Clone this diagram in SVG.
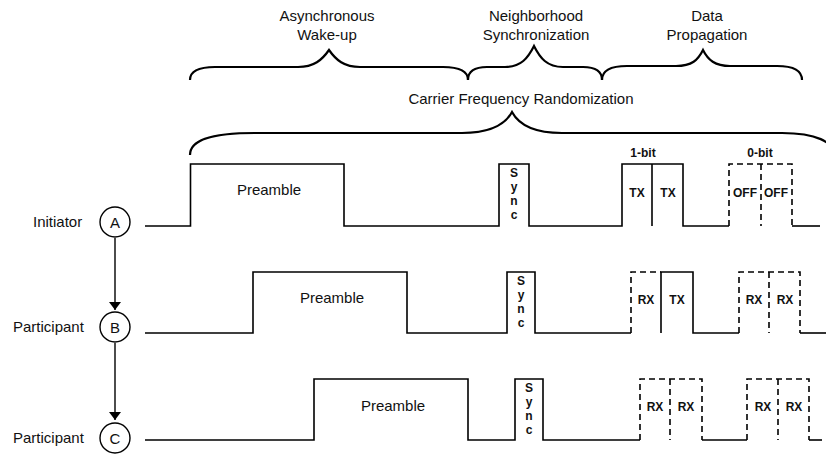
<svg xmlns="http://www.w3.org/2000/svg" width="826" height="454" viewBox="0 0 826 454">
<defs>
<style>
.t{font-family:"Liberation Sans",Arial,sans-serif;font-size:15px;fill:#111}
.m{text-anchor:middle}
.b{font-family:"Liberation Sans",Arial,sans-serif;font-size:12px;font-weight:bold;fill:#111;text-anchor:middle}
.w{fill:none;stroke:#000;stroke-width:1.6;stroke-linejoin:miter}
.d{fill:none;stroke:#000;stroke-width:1.6;stroke-dasharray:6 4}
.br{fill:none;stroke:#000;stroke-width:2.2}
.node{fill:#fff;stroke:#000;stroke-width:1.4}
.c{stroke:#000;stroke-width:1.4;fill:none}
</style>
<marker id="ah" viewBox="0 0 8 12" refX="8" refY="6" markerWidth="8" markerHeight="12" markerUnits="userSpaceOnUse" orient="auto">
<path d="M0,0 L8,6 L0,12 Z" fill="#000"/>
</marker>
</defs>
<rect width="826" height="454" fill="#fff"/>

<!-- phase labels -->
<g id="phase-labels">
<text class="t m" x="327" y="21">Asynchronous</text>
<text class="t m" x="327" y="40">Wake-up</text>
<text class="t m" x="536" y="21">Neighborhood</text>
<text class="t m" x="536" y="40">Synchronization</text>
<text class="t m" x="707" y="21">Data</text>
<text class="t m" x="707" y="40">Propagation</text>
<text class="t m" x="521" y="104">Carrier Frequency Randomization</text>
</g>

<!-- braces -->
<g id="braces">
<path class="br" d="M190,80 C190,71 198,67 215,67 L298,67 C314,67 322,60 329,50 C336,60 344,67 360,67 L443,67 C460,67 468,71 468,80"/>
<path class="br" d="M468,80 C468,72 474,67 487,67 L505,67 C521,67 528,58 534,46 C540,58 547,67 563,67 L583,67 C596,67 602,72 602,80"/>
<path class="br" d="M602,80 C602,71 610,66 627,66 L676,66 C692,66 698,60 703,50 C708,60 715,66 730,66 L777,66 C794,66 802,71 802,80"/>
<path class="br" d="M190,155 C190,141 208,133 255,133 L462,133 C490,133 505,125 512,112 C519,125 534,133 562,133 L782,133 C816,133 834,142 834,155"/>
</g>

<!-- bit labels -->
<text class="b" x="643" y="157">1-bit</text>
<text class="b" x="760" y="157">0-bit</text>

<!-- Initiator waveform -->
<g id="wave-A">
<path class="w" d="M145,226 H190.5 V164 H344 V226 H499 V164 H529 V226 H622 V164 H683 V226 H729"/>
<path class="w" d="M652,164 V226"/>
<path class="d" d="M729,226 V164 H792 V226"/>
<path class="d" d="M761,164 V226"/>
<path class="w" d="M792,226 H820"/>
<text class="t m" x="269" y="195">Preamble</text>
<text class="b" x="514" y="177">S</text>
<text class="b" x="514" y="191">y</text>
<text class="b" x="514" y="205">n</text>
<text class="b" x="514" y="219">c</text>
<text class="b" x="637" y="197">TX</text>
<text class="b" x="668" y="197">TX</text>
<text class="b" x="745" y="197">OFF</text>
<text class="b" x="776" y="197">OFF</text>
</g>

<!-- Participant B waveform -->
<g id="wave-B">
<path class="w" d="M145,333 H253 V272 H407 V333 H507 V272 H535 V333 H631"/>
<path class="d" d="M631,333 V272 H661"/>
<path class="w" d="M661,333 V272 H693 V333 H739"/>
<path class="d" d="M739,333 V272 H800 V333"/>
<path class="d" d="M769,272 V333"/>
<path class="w" d="M800,333 H826"/>
<text class="t m" x="332" y="303">Preamble</text>
<text class="b" x="521" y="285">S</text>
<text class="b" x="521" y="299">y</text>
<text class="b" x="521" y="313">n</text>
<text class="b" x="521" y="327">c</text>
<text class="b" x="646" y="304">RX</text>
<text class="b" x="677" y="304">TX</text>
<text class="b" x="754" y="304">RX</text>
<text class="b" x="785" y="304">RX</text>
</g>

<!-- Participant C waveform -->
<g id="wave-C">
<path class="w" d="M145,440 H314 V379 H468 V440 H515 V379 H543 V440 H640"/>
<path class="d" d="M640,440 V379 H702 V440"/>
<path class="d" d="M670,379 V440"/>
<path class="w" d="M702,440 H747"/>
<path class="d" d="M747,440 V379 H809 V440"/>
<path class="d" d="M778,379 V440"/>
<path class="w" d="M809,440 H822"/>
<text class="t m" x="393" y="411">Preamble</text>
<text class="b" x="529" y="392">S</text>
<text class="b" x="529" y="406">y</text>
<text class="b" x="529" y="420">n</text>
<text class="b" x="529" y="434">c</text>
<text class="b" x="655" y="411">RX</text>
<text class="b" x="686" y="411">RX</text>
<text class="b" x="763" y="411">RX</text>
<text class="b" x="794" y="411">RX</text>
</g>

<!-- nodes -->
<g id="node-A">
<circle class="node" cx="115" cy="222" r="15"/>
<text class="t m" x="115" y="227.5">A</text>
<text class="t" x="33" y="227">Initiator</text>
</g>
<g id="node-B">
<circle class="node" cx="115" cy="327" r="15"/>
<text class="t m" x="115" y="332.5">B</text>
<text class="t" x="13" y="332">Participant</text>
</g>
<g id="node-C">
<circle class="node" cx="115" cy="438" r="15"/>
<text class="t m" x="115" y="443.5">C</text>
<text class="t" x="13" y="443">Participant</text>
</g>

<!-- connectors -->
<g id="connectors">
<line class="c" x1="115" y1="238" x2="115" y2="310" marker-end="url(#ah)"/>
<line class="c" x1="115" y1="343" x2="115" y2="420" marker-end="url(#ah)"/>
</g>
</svg>
